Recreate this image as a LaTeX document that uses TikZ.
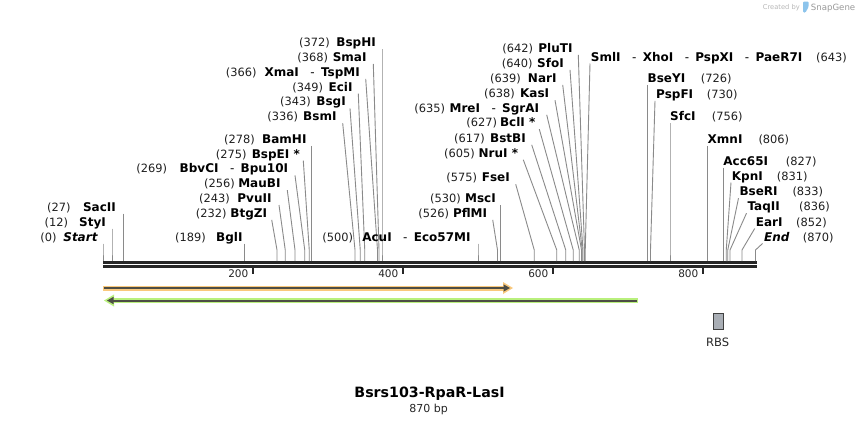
\documentclass[tikz,border=0pt]{standalone}
\usepackage{fontspec}
\setmainfont{DejaVu Sans}
\definecolor{leadgray}{HTML}{8A8A8A}
\definecolor{bardark}{HTML}{262626}
\definecolor{featorange}{HTML}{F9C87C}
\definecolor{featgreen}{HTML}{B9F07D}
\definecolor{featline}{HTML}{4D4D45}
\definecolor{rbsfill}{HTML}{A9AEB5}
\definecolor{wmgray}{HTML}{B8B8B8}
\definecolor{wmblue}{HTML}{8CC4EC}
\newcommand\dsh{\hspace{11.5pt}{\mdseries -}\hspace{6.3pt}}
\newcommand\siteL[8]{% id pos base nameRight numRight offset number name
  \pgfmathsetmacro\bx{103+0.75*#2}
  \node[nm, anchor=base east] (n#1) at (#4,#3) {#8};
  \node[num, anchor=base east] (c#1) at (#5,#3) {(#7)};
  \coordinate (k#1) at (\bx,250);
  \coordinate (p#1) at (\bx,261);
  \draw[lead] ([shift={(#6pt,-2.5pt)}]n#1.base east) -- (k#1) -- (p#1);
}
\newcommand\siteR[8]{% id pos base nameLeft numLeft offset name number
  \pgfmathsetmacro\bx{103+0.75*#2}
  \node[nm, anchor=base west] (n#1) at (#4,#3) {#7};
  \node[num, anchor=base west] (c#1) at (#5,#3) {(#8)};
  \coordinate (k#1) at (\bx,250);
  \coordinate (p#1) at (\bx,261);
  \draw[lead] ([shift={(#6pt,-2.5pt)}]n#1.base west) -- (k#1) -- (p#1);
}
\begin{document}
\begin{tikzpicture}[x={(1pt,0)}, y={(0,-1pt)},
  nm/.style={font=\fontsize{12}{14}\selectfont\bfseries, inner sep=0pt, text=black},
  num/.style={font=\fontsize{11.4}{14}\selectfont, inner sep=0pt, text=black!88},
  lead/.style={draw=leadgray, line width=0.9pt},
  ticklbl/.style={font=\fontsize{10.5}{12}\selectfont, inner sep=0pt, anchor=base east, text=black!85},
  plain/.style={inner sep=0pt}]
\useasboundingbox[fill=white] (0,0) rectangle (860,424);

% watermark
\node[plain, anchor=base west, text=wmgray, font=\fontsize{6.7}{8}\selectfont] (wmc) at (762.7,9.5) {Created by};
\fill[wmblue, rounded corners=1pt] (803,1.5) -- (808.5,1.5) -- (808.5,7) -- (805.5,12.5) -- (803,12.5) -- cycle;
\node[plain, anchor=base west, text=black!40, font=\fontsize{8.6}{10}\selectfont] (wms) at (810.7,10.5) {SnapGene};

% sequence bar
\draw[bardark, line width=2.6pt] (103,262.3) -- (757,262.3);
\draw[bardark, line width=2.4pt] (103,266.5) -- (757,266.5);
\foreach \t/\p in {200/253,400/403,600/553,800/703}{
  \draw[bardark, line width=1.8pt] (\p,267.5) -- (\p,274);
  \node[ticklbl] (t\t) at (\p-4.5,277.7) {\t};
}

% left sites, group 1
\siteL{start}{0}{241}{97.7}{56.7}{5.3}{0}{\itshape Start}
\siteL{styi}{12}{226}{106}{68.3}{6}{12}{StyI}
\siteL{sacii}{27}{211}{116}{70.7}{7.25}{27}{SacII}
\siteL{bgli}{189}{241}{242.7}{206}{2.05}{189}{BglI}
\siteL{btgzi}{232}{217.3}{267.3}{226.7}{4.4}{232}{BtgZI}
\siteL{pvuii}{243}{202.5}{271.7}{230}{7.3}{243}{PvuII}
\siteL{maubi}{256}{187.7}{280.7}{235}{6.6}{256}{MauBI}
\siteL{bbvci}{269}{172.9}{288.3}{167.3}{6.7}{269}{BbvCI\dsh Bpu10I}
\siteL{bspei}{275}{158.1}{300}{246.8}{3.3}{275}{BspEI *}
\siteL{bamhi}{278}{143.3}{306.7}{255}{4.8}{278}{BamHI}
% left sites, group 2
\siteL{bsmi}{336}{120.7}{336.7}{298.3}{6}{336}{BsmI}
\siteL{bsgi}{343}{105.9}{346}{311}{4}{343}{BsgI}
\siteL{ecii}{349}{91.1}{352.7}{323.3}{5.6}{349}{EciI}
\siteL{xmai}{366}{76.3}{360}{256.7}{5.7}{366}{XmaI\dsh TspMI}
\siteL{smai}{368}{61.5}{366.7}{328.3}{6.6}{368}{SmaI}
\siteL{bsphi}{372}{46.7}{376}{330}{6}{372}{BspHI}
% middle sites
\siteL{acui}{500}{241}{470.7}{353.3}{7.3}{500}{AcuI\dsh Eco57MI}
\siteL{pflmi}{526}{217.3}{487.3}{449.3}{5.4}{526}{PflMI}
\siteL{msci}{530}{202.7}{496}{461}{4.5}{530}{MscI}
\siteL{fsei}{575}{181.7}{510}{477.3}{5.7}{575}{FseI}
\siteL{nrui}{605}{157.3}{518.3}{475}{5}{605}{NruI *}
\siteL{bstbi}{617}{142.3}{526}{485}{5.7}{617}{BstBI}
\siteL{bcli}{627}{126.7}{535.5}{497.3}{3.8}{627}{BclI *}
\siteL{mrei}{635}{112.3}{539.3}{445.3}{7.4}{635}{MreI\dsh SgrAI}
\siteL{kasi}{638}{97.7}{549.3}{515}{5.7}{638}{KasI}
\siteL{nari}{639}{82.3}{556.7}{521}{6}{639}{NarI}
\siteL{sfoi}{640}{67.3}{564}{532.7}{6}{640}{SfoI}
\siteL{pluti}{642}{52.3}{572.7}{533.3}{5.6}{642}{PluTI}
% right sites
\siteR{smli}{643}{61}{590.7}{816}{-0.7}{SmlI\dsh XhoI\dsh PspXI\dsh PaeR7I}{643}
\siteR{bseyi}{726}{82.3}{647.5}{700.7}{0}{BseYI}{726}
\siteR{pspfi}{730}{98.3}{656}{706.7}{-1}{PspFI}{730}
\siteR{sfci}{756}{120.7}{670}{711.7}{0}{SfcI}{756}
\siteR{xmni}{806}{143.3}{707.5}{758.3}{0}{XmnI}{806}
\siteR{acci}{827}{165}{723.25}{785.7}{0}{Acc65I}{827}
\siteR{kpni}{831}{180}{731.7}{776.7}{-0.7}{KpnI}{831}
\siteR{bseri}{833}{195.7}{739.3}{792.3}{-0.8}{BseRI}{833}
\siteR{taqii}{836}{210.7}{747.3}{799}{-0.8}{TaqII}{836}
\siteR{eari}{852}{226}{755.7}{796}{-1}{EarI}{852}
\siteR{end}{870}{241}{764}{802.7}{-1.5}{\itshape End}{870}

% features
\fill[featorange] (103,285.5) rectangle (504,290.5);
\fill[featorange] (503,282) -- (513,288) -- (503,294) -- cycle;
\draw[featline, line width=2pt] (104,288) -- (505,288);
\fill[featline] (503.5,284.3) -- (510,288) -- (503.5,291.7) -- cycle;

\fill[featgreen] (114,298) rectangle (637.5,303);
\fill[featgreen] (114,294.5) -- (104,300.5) -- (114,306.5) -- cycle;
\draw[featline, line width=2pt] (112,300.5) -- (636.5,300.5);
\fill[featline] (113.5,296.8) -- (107,300.5) -- (113.5,304.2) -- cycle;

% RBS
\node[plain, draw=black!75, fill=rbsfill, line width=0.9pt, minimum width=9.4pt, minimum height=16pt, anchor=north west] (rbs) at (713.3,313.3) {};
\node[plain, anchor=base, font=\fontsize{11.5}{13}\selectfont, text=black!85] (rbsl) at (717.7,346.7) {RBS};

% title
\node[plain, anchor=base, font=\fontsize{14.2}{16}\selectfont\bfseries] (title) at (429.5,397) {Bsrs103-RpaR-LasI};
\node[plain, anchor=base, font=\fontsize{11}{13}\selectfont, text=black!85] (len) at (428.7,412) {870 bp};
\end{tikzpicture}
\end{document}
